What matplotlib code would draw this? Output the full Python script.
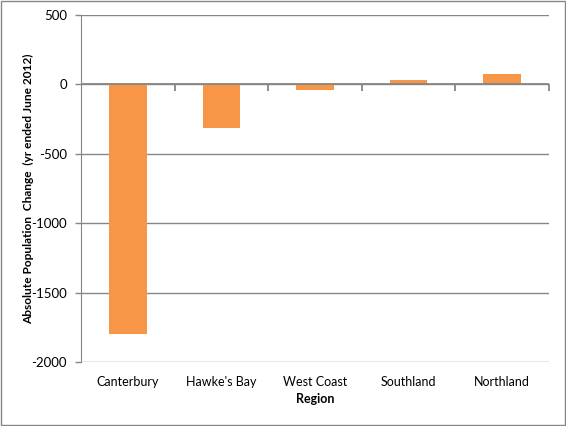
import matplotlib

matplotlib.use("Agg")
import matplotlib.pyplot as plt
from matplotlib.patches import Rectangle

regions = ["Canterbury", "Hawke's Bay", "West Coast", "Southland", "Northland"]
change = [-1800, -315, -40, 30, 72]
y_ticks = [500, 0, -500, -1000, -1500, -2000]

BAR = "#F79646"
GREY = "#868686"

plt.rcParams["font.family"] = ["Lato", "DejaVu Sans"]
plt.rcParams["axes.unicode_minus"] = False

fig = plt.figure(figsize=(5.66, 4.26), dpi=100)
ax = fig.add_axes((0.1431, 0.1502, 0.8269, 0.8146))

x = list(range(len(regions)))
ax.bar(x, change, width=0.4, color=BAR, zorder=3)

ax.set_xlim(-0.5, len(regions) - 0.5)
ax.set_ylim(min(y_ticks), max(y_ticks))
ax.set_yticks(y_ticks)
ax.set_yticklabels([str(v) for v in y_ticks])
ax.yaxis.grid(True, color=GREY, linewidth=1, zorder=0)

ax.set_xticks(x)
ax.set_xticklabels(regions)
ax.tick_params(axis="x", length=0, pad=10, labelsize=9)
ax.tick_params(axis="y", length=4, width=1, color=GREY, pad=6, labelsize=9.5)

for side in ("top", "right", "bottom"):
    ax.spines[side].set_visible(False)
ax.spines["left"].set_color(GREY)

# horizontal axis sits at zero, with tick marks between categories
ax.axhline(0, color=GREY, linewidth=1.3, zorder=4)
bounds = [k - 0.5 for k in range(1, len(regions) + 1)]
ax.plot(bounds, [0] * len(bounds), linestyle="none", marker=3,
        markersize=5, markeredgewidth=1.3, color=GREY, zorder=4)

ax.set_xlabel("Region", fontweight="bold", fontsize=9, labelpad=4)
ax.set_ylabel("Absolute Population  Change  (yr ended June 2012)",
              fontweight="bold", fontsize=8.6)
ax.yaxis.set_label_coords(-0.100, 0.5)

fig.patches.append(Rectangle((0.002, 0.002), 0.996, 0.996, transform=fig.transFigure,
                             fill=False, edgecolor=GREY, linewidth=1))

fig.savefig("out.png", dpi=100)
